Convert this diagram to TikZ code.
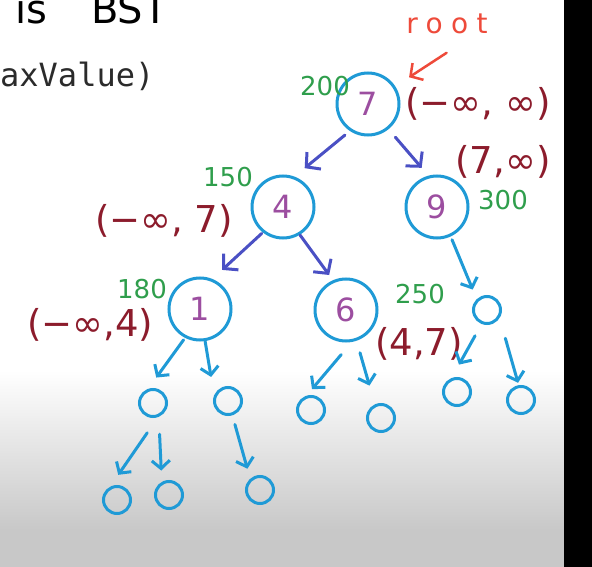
\documentclass[tikz,border=0pt]{standalone}
\usepackage{fontspec}
\setmainfont{DejaVu Sans}
\newfontfamily\codefont{DejaVu Sans Mono}
\usetikzlibrary{arrows.meta}
\definecolor{nodeblue}{HTML}{1F9AD6}
\definecolor{edgeblue}{HTML}{4A50C4}
\definecolor{keypurple}{HTML}{9C4EA0}
\definecolor{rangered}{HTML}{8C1C2C}
\definecolor{costgreen}{HTML}{2F9E4C}
\definecolor{rootred}{HTML}{EE4A3A}
\definecolor{codegray}{HTML}{2B2B2B}
\definecolor{bggray}{HTML}{C8C8C8}

\begin{document}
\begin{tikzpicture}[x=1pt, y=1pt,
    keynode/.style={circle, draw=nodeblue, line width=3pt, minimum size=62pt, inner sep=0pt, outer sep=0pt,
      text=keypurple, font=\fontsize{32}{32}\selectfont},
    nilnode/.style={circle, draw=nodeblue, line width=3pt, minimum size=27pt, inner sep=0pt, outer sep=0pt},
    rangelbl/.style={text=rangered, inner sep=0pt, font=\fontsize{37}{37}\selectfont},
    costlbl/.style={text=costgreen, inner sep=0pt, font=\fontsize{26}{26}\selectfont},
    rootlbl/.style={text=rootred, inner sep=0pt, font=\fontsize{28}{28}\selectfont\addfontfeature{LetterSpace=30}},
    upedge/.style={draw=edgeblue, line width=3pt, line cap=round, line join=round,
      -{Straight Barb[length=10pt,width=22pt]}},
    lowedge/.style={draw=nodeblue, line width=3pt, line cap=round, line join=round,
      -{Straight Barb[length=8pt,width=18pt]}},
    rootedge/.style={draw=rootred, line width=2.5pt, line cap=round, line join=round,
      -{Straight Barb[length=9pt,width=20pt]}}]
    \useasboundingbox (0,0) rectangle (592,-567);
    \clip (0,0) rectangle (592,-567);
    \fill[white] (0,0) rectangle (592,-567);
    \shade[top color=white, bottom color=bggray] (0,-370) rectangle (564,-530);
    \fill[bggray] (0,-530) rectangle (564,-567);
    \fill[black] (564,0) rectangle (592,-567);

    \node[anchor=base west, inner sep=0pt, font=\fontsize{40}{40}\selectfont] (title) at (15,-24) {is\hspace{44pt}BST};
    \node[anchor=base west, inner sep=0pt, text=codegray, font=\codefont\fontsize{32}{32}\selectfont] (code) at (0,-87) {axValue)};

    \node[keynode] (n7) at (368,-104) {7};
    \node[keynode] (n4) at (283,-207) {4};
    \node[keynode] (n9) at (437,-207) {9};
    \node[keynode] (n1) at (200,-309) {1};
    \node[keynode] (n6) at (346,-310) {6};

    \node[nilnode] (s9) at (487,-310) {};
    \node[nilnode] (s9l) at (457,-392) {};
    \node[nilnode] (s9r) at (521,-400) {};
    \node[nilnode] (s1l) at (153,-403) {};
    \node[nilnode] (s1r) at (228,-401) {};
    \node[nilnode] (s6l) at (311,-410) {};
    \node[nilnode] (s6r) at (381,-418) {};
    \node[nilnode] (s1ll) at (117,-500) {};
    \node[nilnode] (s1lr) at (169,-495) {};
    \node[nilnode] (s1rr) at (260,-490) {};

    \node[costlbl] (c7) at (325,-86) {200};
    \node[rangelbl] (r7) at (478,-104) {(−∞, ∞)};
    \node[costlbl] (c4) at (228,-177) {150};
    \node[rangelbl] (r4) at (164,-221) {(−∞, 7)};
    \node[rangelbl] (r9) at (503,-162) {(7,∞)};
    \node[costlbl] (c9) at (503,-200) {300};
    \node[costlbl] (c1) at (142,-289) {180};
    \node[rangelbl] (r1) at (90,-325) {(−∞,4)};
    \node[costlbl] (c6) at (420,-294) {250};
    \node[rangelbl] (r6) at (419,-344) {(4,7)};

    \node[rootlbl] (root) at (447,-24) {root};
    \draw[rootedge, shorten <=34pt, shorten >=18pt] (root.-20) -- (n7.33);

    \foreach \a/\b/\oa/\ob/\sa/\sb in {n7/n4/-123/71/8/15, n7/n9/-51/104/12/12,
        n4/n1/-128/69/3/15, n4/n6/-59/113/2/8}
      \draw[upedge, shorten <=\sa pt, shorten >=\sb pt] (\a.\oa) -- (\b.\ob);
    \foreach \a/\b/\oa/\ob/\sa/\sb in {n9/s9/-65/136/5/12, s9/s9l/-110/120/15/18,
        s9/s9r/-27/98/23/4, n1/s1l/-117/120/4/17, n1/s1r/-81/170/2/22,
        n6/s6l/-76/120/19/12, n6/s6r/-71/115/14/21, s1l/s1ll/-60/135/22/19,
        s1l/s1lr/-65/122/19/13, s1r/s1rr/-73/134/11/12}
      \draw[lowedge, shorten <=\sa pt, shorten >=\sb pt] (\a.\oa) -- (\b.\ob);
\end{tikzpicture}
\end{document}
